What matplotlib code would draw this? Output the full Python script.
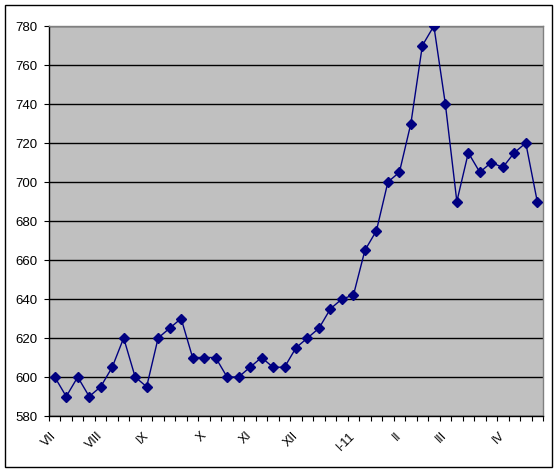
import matplotlib
matplotlib.use("Agg")
import matplotlib.pyplot as plt
from matplotlib.patches import Rectangle
import numpy as np

# weekly values, July 2010 .. April 2011
values = [600, 590, 600, 590, 595, 605, 620, 600, 595, 620,
          625, 630, 610, 610, 610, 600, 600, 605, 610, 605,
          605, 615, 620, 625, 635, 640, 642, 665, 675, 700,
          705, 730, 770, 780, 740, 690, 715, 705, 710, 707.5,
          715, 720, 690]

month_labels = ["VII", "VIII", "IX", "X", "XI", "XII", "I-11", "II", "III", "IV"]
month_index = [0, 4, 8, 13, 17, 21, 26, 30, 34, 39]

y_ticks = [580, 600, 620, 640, 660, 680, 700, 720, 740, 760, 780]

plt.rcParams["font.family"] = ["Liberation Sans", "DejaVu Sans"]

W, H = 560, 473
fig = plt.figure(figsize=(W / 100, H / 100), dpi=100)
fig.patch.set_facecolor("white")

# plot area in pixels: left 49, top 26, right 543, bottom 416
ax = fig.add_axes([49 / W, 1 - 416 / H, (543 - 49) / W, (416 - 26) / H])
ax.set_facecolor("#C0C0C0")

x = np.arange(len(values))
ax.plot(x, values, color="#000080", linewidth=1.0, marker="D",
        markersize=4.8, markerfacecolor="#000080", markeredgecolor="#000080",
        zorder=3)

ax.set_xlim(-0.5, len(values) - 0.5)
ax.set_ylim(580, 780)

ax.set_yticks(y_ticks)
ax.set_yticklabels([str(v) for v in y_ticks])
ax.yaxis.grid(True, color="black", linewidth=1.0)
ax.set_axisbelow(True)

# tick marks between categories, labels at month starts
ax.set_xticks(np.arange(-0.5, len(values), 1.0))
ax.set_xticklabels([])
ax.set_xticks(month_index, minor=True)
ax.set_xticklabels(month_labels, minor=True, rotation=45, ha="right",
                   va="center", rotation_mode="anchor")

ax.tick_params(axis="x", which="major", direction="out", length=3.6,
               width=0.8, color="black")
ax.tick_params(axis="x", which="minor", length=0, pad=13, labelsize=9)
ax.tick_params(axis="y", direction="out", length=3.6, width=0.8,
               pad=4.5, labelsize=9.5, color="black")

ax.spines["left"].set_color("black")
ax.spines["bottom"].set_color("black")
ax.spines["top"].set_color("#808080")
ax.spines["right"].set_color("#808080")
for s in ax.spines.values():
    s.set_linewidth(1.0)

# chart area border
fig.patches.append(Rectangle((5 / W, 1 - 467 / H), 547 / W, 462 / H,
                             transform=fig.transFigure, fill=False,
                             edgecolor="black", linewidth=1.0))

fig.savefig("out.png", dpi=100)
